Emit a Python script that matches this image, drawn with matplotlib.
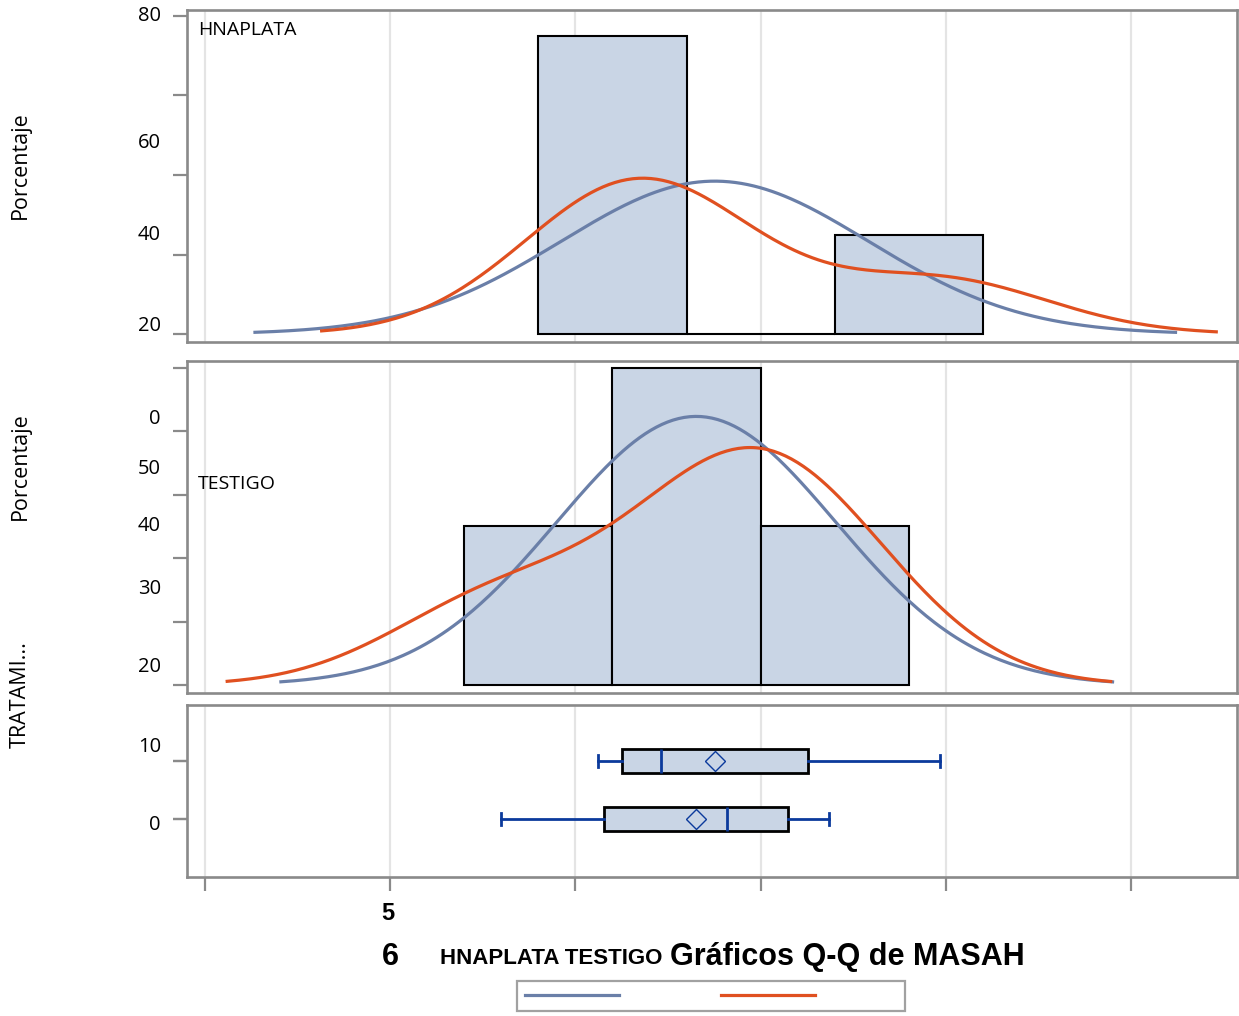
import numpy as np
import matplotlib.pyplot as plt

# observations per treatment (read back from the box plots / histograms)
hnaplata = [6.12, 6.38, 6.54, 7.97]
testigo = [5.60, 6.71, 6.93, 7.37]
bins_hnaplata = [5.8, 6.6, 7.4, 8.2]
bins_testigo = [5.4, 6.2, 7.0, 7.8]
bandwidth = 0.59
normal_span_h = (4.27, 9.24)
kernel_span_h = (4.63, 9.46)
normal_span_t = (4.41, 8.90)
kernel_span_t = (4.12, 8.89)

# the (garbled) axis labels as printed in the original
labels_top = ["80", "60", "40", "20"]
labels_mid = ["0", "50", "40", "30", "20"]
labels_box = ["10", "0"]

BLUE = "#6a7fa8"
ORANGE = "#e05020"
FILL = "#c9d5e5"
DARK = "#0b3a9c"
SPINE = "#8a8a8a"
W, H = 1239, 1016


def fx(px):
    return px / W


def fy(py):
    return 1 - py / H


def normal_curve(data, span, binw):
    x = np.linspace(span[0], span[1], 300)
    mu, sd = np.mean(data), np.std(data, ddof=1)
    y = 100 * binw * np.exp(-0.5 * ((x - mu) / sd) ** 2) / (sd * np.sqrt(2 * np.pi))
    return x, y


def kernel_curve(data, span, binw, h):
    x = np.linspace(span[0], span[1], 300)
    z = (x[:, None] - np.array(data)[None, :]) / h
    y = 100 * binw * np.exp(-0.5 * z ** 2).sum(axis=1) / (len(data) * h * np.sqrt(2 * np.pi))
    return x, y


def style(ax, yticks, ylim):
    ax.set_xlim(3.903, 9.572)
    ax.set_ylim(*ylim)
    ax.set_xticks(range(4, 10))
    ax.set_yticks(yticks)
    ax.grid(axis="x", color="#e4e4e4", linewidth=1.6)
    ax.set_axisbelow(True)
    for s in ax.spines.values():
        s.set_color(SPINE)
        s.set_linewidth(1.9)
    ax.tick_params(axis="y", length=10, width=1.6, color=SPINE, labelleft=False)
    ax.tick_params(axis="x", length=0, labelbottom=False)


fig = plt.figure(figsize=(12.39, 10.16), dpi=100)
ax1 = fig.add_axes([fx(187), fy(342), fx(1050), 332 / H])
ax2 = fig.add_axes([fx(187), fy(693), fx(1050), 332 / H])
ax3 = fig.add_axes([fx(187), fy(877), fx(1050), 172 / H])

for ax, data, bins, nspan, kspan in [
    (ax1, hnaplata, bins_hnaplata, normal_span_h, kernel_span_h),
    (ax2, testigo, bins_testigo, normal_span_t, kernel_span_t),
]:
    binw = bins[1] - bins[0]
    ax.hist(data, bins=bins, weights=[100 / len(data)] * len(data),
            color=FILL, edgecolor="black", linewidth=1.5, zorder=2)
    x, y = normal_curve(data, nspan, binw)
    ln_n, = ax.plot(x, y, color=BLUE, linewidth=2.3, zorder=3)
    x, y = kernel_curve(data, kspan, binw, bandwidth)
    ln_k, = ax.plot(x, y, color=ORANGE, linewidth=2.3, zorder=4)

style(ax1, [0, 20, 40, 60, 80], (-2.0, 81.5))
style(ax2, [0, 10, 20, 30, 40, 50], (-1.26, 51.1))
style(ax3, [0, 1], (-1.0, 1.966))
ax3.tick_params(axis="x", length=10, width=1.6, color=SPINE)

# box plots, SAS style quartiles
stats = []
for data in [testigo, hnaplata]:
    q1, med, q3 = np.percentile(data, [25, 50, 75], method="averaged_inverted_cdf")
    stats.append(dict(med=med, q1=q1, q3=q3, whislo=min(data), whishi=max(data),
                      mean=np.mean(data), fliers=[]))
ax3.bxp(stats, positions=[0, 1], widths=0.41, orientation="horizontal",
        showmeans=True, patch_artist=True, capwidths=0.2,
        boxprops=dict(facecolor=FILL, edgecolor="black", linewidth=2),
        medianprops=dict(color=DARK, linewidth=2),
        whiskerprops=dict(color=DARK, linewidth=2),
        capprops=dict(color=DARK, linewidth=2),
        meanprops=dict(marker="D", markersize=10, markerfacecolor="none",
                       markeredgecolor=DARK, markeredgewidth=1))

# y labels (as they appear in the source picture)
tick_font = dict(family="Open Sans", fontsize=14.5, ha="right", va="center")
for t, py in zip(labels_top, [16, 143, 235, 326]):
    fig.text(fx(161), fy(py), t, **tick_font)
for t, py in zip(labels_mid, [419, 469, 526, 589, 667]):
    fig.text(fx(161), fy(py), t, **tick_font)
for t, py in zip(labels_box, [747, 825]):
    fig.text(fx(161), fy(py), t, **tick_font)

side = dict(family="Open Sans", fontsize=15.5, rotation=90, ha="center", va="center")
fig.text(fx(20), fy(165), "Porcentaje", **side)
fig.text(fx(20), fy(466), "Porcentaje", **side)
fig.text(fx(20), fy(695), "TRATAMI...", **side)

fig.text(fx(198), fy(30), "HNAPLATA", family="Open Sans", fontsize=14, va="center")
fig.text(fx(198), fy(484), "TESTIGO", family="Open Sans", fontsize=14, va="center")

fig.text(fx(388), fy(913), "5", family="Liberation Sans", fontsize=17,
         fontweight="bold", ha="center", va="center")
fig.text(fx(390), fy(957), "6", family="Liberation Sans", fontsize=22,
         fontweight="bold", ha="center", va="center")
fig.text(fx(440), fy(959), "HNAPLATA TESTIGO",
         family=["Liberation Sans Narrow", "Liberation Sans"], fontsize=16,
         fontweight="bold", ha="left", va="center")
fig.text(fx(670), fy(957), "Gráficos Q-Q de MASAH", family="Liberation Sans",
         fontsize=22, fontweight="bold", ha="left", va="center")

leg = fig.legend([ln_n, ln_k], ["", ""], ncol=2, loc="center",
                 bbox_to_anchor=(fx(711), fy(996)), fontsize=10,
                 handlelength=6.8, handletextpad=5.9, columnspacing=1.4,
                 borderpad=0.6, fancybox=False, frameon=True)
leg.get_frame().set_edgecolor(SPINE)
leg.get_frame().set_linewidth(1.6)

fig.savefig("out.png", dpi=100)
